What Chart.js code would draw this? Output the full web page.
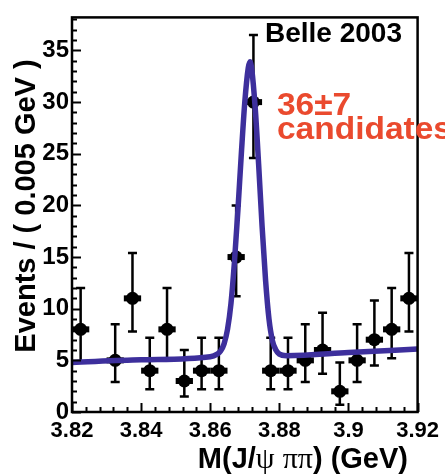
<!DOCTYPE html>
<html>
<head>
<meta charset="utf-8">
<script src="https://cdn.jsdelivr.net/npm/chart.js@4.4.1/dist/chart.umd.min.js"></script>
<style>
  html, body { margin: 0; padding: 0; background: #fff; }
  #wrap { width: 445px; height: 475px; }
</style>
</head>
<body>
<div id="wrap"><canvas id="c" width="445" height="475"></canvas></div>
<script>
// ── datos ──
const binCenters = [3.8225, 3.8325, 3.8375, 3.8425, 3.8475, 3.8525, 3.8575, 3.8625, 3.8675, 3.8725,
                    3.8775, 3.8825, 3.8875, 3.8925, 3.8975, 3.9025, 3.9075, 3.9125, 3.9175];
const events     = [8, 5, 11, 4, 8, 3, 4, 4, 15, 30, 4, 4, 5, 6, 2, 5, 7, 8, 11];
const errUpper   = [12, 8.5, 15.4, 7.2, 12, 6, 7.2, 7.2, 20, 36.5, 7.2, 7.2, 8.5, 9.6, 4.8, 8.5, 10.8, 12, 15.4];
const errLower   = [4.9, 2.9, 7.8, 2.2, 5.2, 1.5, 2.2, 2.2, 11.2, 24.6, 2.2, 2.2, 2.9, 3.7, 0.7, 2.9, 4.5, 5.2, 7.8];
const binHalfWidth = 0.0025;

// curva del ajuste (leída punto a punto)
const fitX = [3.82, 3.84, 3.86, 3.862, 3.863, 3.864, 3.865, 3.866, 3.867, 3.868, 3.869, 3.870, 3.871, 3.8715,
              3.872, 3.873, 3.874, 3.875, 3.876, 3.877, 3.878, 3.879, 3.880, 3.882, 3.90, 3.92];
const fitY = [4.8, 5.05, 5.35, 5.6, 5.9, 6.6, 8.0, 10.5, 14.5, 19.5, 25.0, 30.0, 33.3, 33.9,
              33.2, 29.5, 24.0, 18.0, 12.8, 9.0, 6.9, 6.0, 5.6, 5.45, 5.75, 6.1];

const xTicks      = [3.82, 3.84, 3.86, 3.88, 3.9, 3.92];
const xTickLabels = ['3.82', '3.84', '3.86', '3.88', '3.9', '3.92'];
const yTicks      = [0, 5, 10, 15, 20, 25, 30, 35];

const FIT_COLOR = '#3d2f9c';
const RED       = '#ea4a2e';
const SANS      = '"Liberation Sans", Arial, sans-serif';

// ── marco, ticks internos, barras de error y textos ──
const decorPlugin = {
  id: 'decor',
  beforeDatasetsDraw(chart) {
    const { ctx, scales: { x, y } } = chart;
    ctx.save();
    ctx.strokeStyle = '#000';
    binCenters.forEach((v, i) => {
      const px = x.getPixelForValue(v);
      const py = y.getPixelForValue(events[i]);
      const top = y.getPixelForValue(errUpper[i]);
      const bot = y.getPixelForValue(errLower[i]);
      ctx.lineWidth = 2.5;
      ctx.beginPath();
      ctx.moveTo(px, top); ctx.lineTo(px, bot);
      ctx.moveTo(px - 4.5, top); ctx.lineTo(px + 4.5, top);
      ctx.moveTo(px - 4.5, bot); ctx.lineTo(px + 4.5, bot);
      ctx.stroke();
      // barra horizontal = medio bin
      ctx.lineWidth = 6;
      ctx.beginPath();
      ctx.moveTo(x.getPixelForValue(v - binHalfWidth), py);
      ctx.lineTo(x.getPixelForValue(v + binHalfWidth), py);
      ctx.stroke();
    });
    ctx.restore();
  },
  afterDraw(chart) {
    const { ctx, chartArea: a, scales: { x, y } } = chart;
    ctx.save();
    ctx.strokeStyle = '#000';
    ctx.lineWidth = 2;
    // ticks menores y mayores, hacia dentro
    for (let i = 0; i <= 25; i++) {
      const px = Math.round(x.getPixelForValue(3.82 + i * 0.004)) + 0.5;
      const len = i % 5 === 0 ? 9 : 5;
      ctx.beginPath(); ctx.moveTo(px, a.bottom); ctx.lineTo(px, a.bottom - len); ctx.stroke();
    }
    for (let i = 0; i <= 38; i++) {
      const py = Math.round(y.getPixelForValue(i)) + 0.5;
      const len = i % 5 === 0 ? 9 : 5;
      ctx.beginPath(); ctx.moveTo(a.left, py); ctx.lineTo(a.left + len, py); ctx.stroke();
    }
    ctx.lineWidth = 2.5;
    ctx.strokeRect(a.left, a.top, a.right - a.left, a.bottom - a.top);

    // título eje Y
    ctx.fillStyle = '#000';
    ctx.font = 'bold 29px ' + SANS;
    ctx.textAlign = 'center';
    ctx.textBaseline = 'middle';
    ctx.save();
    ctx.translate(27, 206);
    ctx.rotate(-Math.PI / 2);
    ctx.fillText('Events / ( 0.005 GeV )', 0, 0);
    ctx.restore();

    // título eje X con letras griegas
    const parts = [
      ['M(J/', 'bold 29px ' + SANS],
      ['\u03c8', '30px "Liberation Serif", serif'],
      [' ', 'bold 29px ' + SANS],
      ['\u03c0\u03c0', '30px "Liberation Serif", serif'],
      [') (GeV)', 'bold 29px ' + SANS]
    ];
    let total = 0;
    parts.forEach(([t, f]) => { ctx.font = f; total += ctx.measureText(t).width; });
    let cx = 408 - total;
    ctx.textAlign = 'left';
    ctx.textBaseline = 'alphabetic';
    parts.forEach(([t, f]) => {
      ctx.font = f;
      ctx.fillText(t, cx, 468);
      cx += ctx.measureText(t).width;
    });

    // anotaciones
    ctx.font = 'bold 28px ' + SANS;
    ctx.fillText('Belle 2003', 265, 42);
    ctx.fillStyle = RED;
    ctx.font = 'bold 31px ' + SANS;
    ctx.save();
    ctx.translate(277, 0);
    ctx.scale(1.08, 1);
    ctx.fillText('36\u00b17', 0, 115);
    ctx.fillText('candidates', 0, 139);
    ctx.restore();
    ctx.restore();
  }
};

new Chart(document.getElementById('c'), {
  type: 'scatter',
  data: {
    datasets: [
      {
        label: 'Fit',
        data: fitX.map((v, i) => ({ x: v, y: fitY[i] })),
        showLine: true,
        borderColor: FIT_COLOR,
        borderWidth: 5.5,
        pointRadius: 0,
        cubicInterpolationMode: 'monotone',
        order: 0
      },
      {
        label: 'Data',
        data: binCenters.map((v, i) => ({ x: v, y: events[i] })),
        showLine: false,
        pointStyle: 'circle',
        pointRadius: 6.5,
        backgroundColor: '#000',
        borderColor: '#000',
        borderWidth: 0,
        order: 1
      }
    ]
  },
  options: {
    responsive: false,
    animation: false,
    layout: { padding: { top: 12, right: 27, left: 0, bottom: 0 } },
    plugins: { legend: { display: false }, tooltip: { enabled: false } },
    scales: {
      x: {
        type: 'linear',
        min: 3.82,
        max: 3.92,
        grid: { display: false, drawTicks: false },
        border: { display: false },
        afterBuildTicks: s => { s.ticks = xTicks.map(v => ({ value: v })); },
        afterFit: s => { s.height = 63; },
        ticks: {
          autoSkip: false,
          maxRotation: 0,
          padding: 6,
          color: '#000',
          font: { family: SANS, size: 22, weight: 'bold' },
          callback: (v, i) => xTickLabels[i]
        }
      },
      y: {
        type: 'linear',
        min: 0,
        max: 38.2,
        grid: { display: false, drawTicks: false },
        border: { display: false },
        afterBuildTicks: s => { s.ticks = yTicks.map(v => ({ value: v })); },
        afterFit: s => { s.width = 72; },
        ticks: {
          autoSkip: false,
          padding: 3,
          color: '#000',
          font: { family: SANS, size: 24, weight: 'bold' },
          callback: v => String(v)
        }
      }
    }
  },
  plugins: [decorPlugin]
});
</script>
</body>
</html>
